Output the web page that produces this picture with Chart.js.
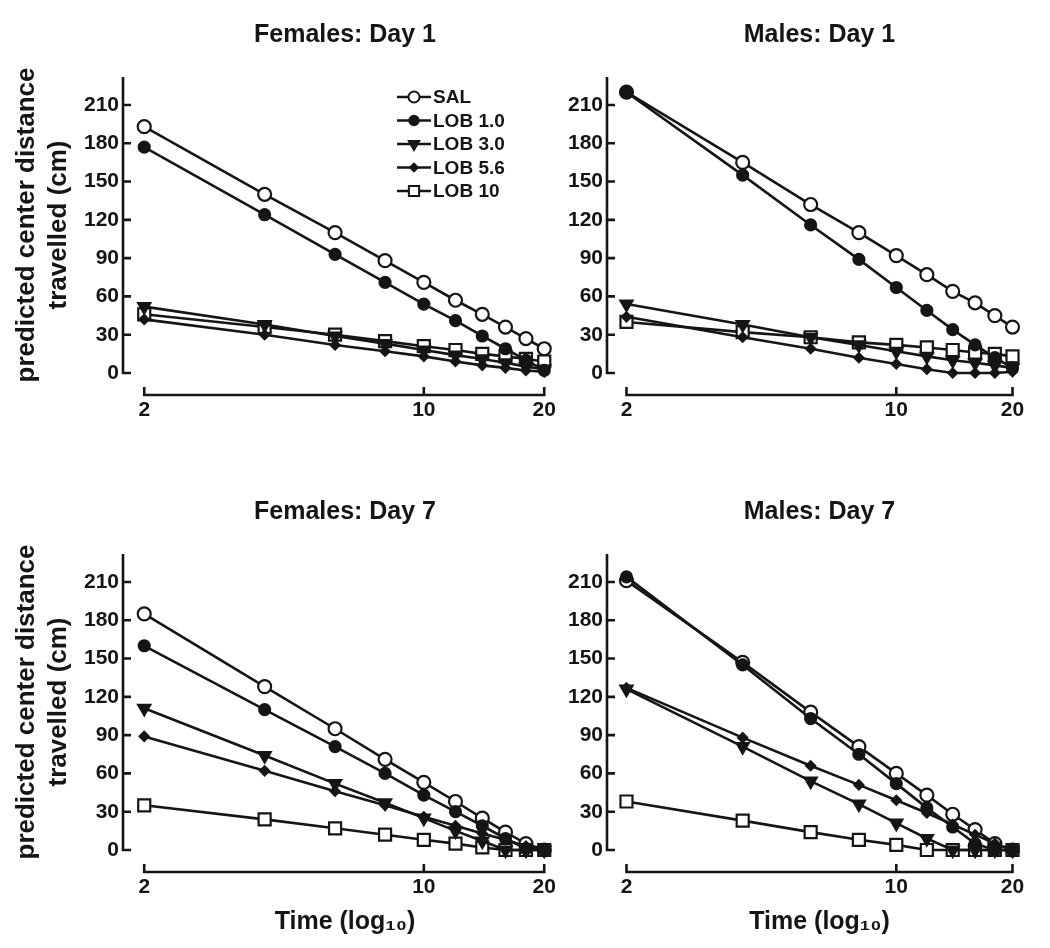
<!DOCTYPE html>
<html>
<head>
<meta charset="utf-8">
<script src="https://cdn.jsdelivr.net/npm/chart.js@4.4.1/dist/chart.umd.min.js"></script>
<style>
  html, body { margin: 0; padding: 0; background: #fff; }
  body { width: 1050px; height: 948px; overflow: hidden; position: relative; }
  canvas { position: absolute; }
</style>
</head>
<body>
<canvas id="fd1" width="600" height="440" style="left:0;top:0"></canvas>
<canvas id="md1" width="485" height="440" style="left:565px;top:0"></canvas>
<canvas id="fd7" width="600" height="471" style="left:0;top:477px"></canvas>
<canvas id="md7" width="485" height="471" style="left:565px;top:477px"></canvas>
<script>
// time points (min), shown on a log10 axis
const timePoints = [2, 4, 6, 8, 10, 12, 14, 16, 18, 20];
const xTickValues = [2, 10, 20];
const yTickValues = [0, 30, 60, 90, 120, 150, 180, 210];
const seriesNames = ['SAL', 'LOB 1.0', 'LOB 3.0', 'LOB 5.6', 'LOB 10'];

// rows follow seriesNames order
const femalesDay1 = [
  [193, 140, 110, 88, 71, 57, 46, 36, 27, 19],
  [177, 124, 93, 71, 54, 41, 29, 19, 10, 2],
  [52, 38, 29, 23, 18, 14, 11, 8, 5, 3],
  [42, 30, 22, 17, 13, 9, 6, 4, 2, 1],
  [46, 36, 30, 25, 21, 18, 15, 13, 11, 9]
];
const malesDay1 = [
  [220, 165, 132, 110, 92, 77, 64, 55, 45, 36],
  [220, 155, 116, 89, 67, 49, 34, 22, 12, 4],
  [54, 38, 28, 22, 17, 13, 10, 8, 6, 4],
  [44, 28, 19, 12, 7, 3, 0, 0, 0, 1],
  [40, 32, 28, 24, 22, 20, 18, 16, 15, 13]
];
const femalesDay7 = [
  [185, 128, 95, 71, 53, 38, 25, 14, 5, 0],
  [160, 110, 81, 60, 43, 30, 19, 9, 1, 0],
  [111, 74, 52, 37, 25, 15, 7, 0, 0, 0],
  [89, 62, 46, 35, 26, 19, 13, 8, 3, 0],
  [35, 24, 17, 12, 8, 5, 2, 0, 0, 0]
];
const malesDay7 = [
  [211, 147, 108, 81, 60, 43, 28, 16, 5, 0],
  [214, 145, 103, 75, 52, 33, 18, 5, 0, 0],
  [126, 81, 54, 36, 21, 9, 0, 0, 0, 0],
  [127, 88, 66, 51, 39, 29, 20, 12, 5, 0],
  [38, 23, 14, 8, 4, 0, 0, 0, 0, 0]
];

const INK = '#151515';
const FONT = '"Liberation Sans", Arial, Helvetica, sans-serif';
const markerStyle = ['circle', 'circle', 'triangle', 'rectRot', 'rect'];
const markerFill = ['#fff', INK, INK, INK, '#fff'];
const markerRadius = [6.5, 5.5, 7, 4.5, 8.5];
const markerRotation = [0, 0, 180, 0, 0];
const drawOrder = [1, 0, 0, 0, 0]; // SAL drawn underneath the filled symbols
const AXIS_GAP = 22; // x axis sits below the y=0 level

// prism-style axes: y line stops at 0, x line spans 2..20 lower down, ticks point inward
const prismAxes = {
  id: 'prismAxes',
  beforeDatasetsDraw(chart) {
    const { ctx, chartArea, scales: { x, y } } = chart;
    ctx.save();
    ctx.strokeStyle = INK;
    ctx.lineWidth = 2.6;
    ctx.beginPath();
    ctx.moveTo(chartArea.left, chartArea.top);
    ctx.lineTo(chartArea.left, y.getPixelForValue(0) + 1.3);
    yTickValues.forEach(v => {
      const p = y.getPixelForValue(v);
      ctx.moveTo(chartArea.left, p);
      ctx.lineTo(chartArea.left + 8, p);
    });
    const xb = chartArea.bottom + AXIS_GAP;
    ctx.moveTo(x.getPixelForValue(xTickValues[0]), xb);
    ctx.lineTo(x.getPixelForValue(xTickValues[xTickValues.length - 1]), xb);
    xTickValues.forEach(v => {
      const p = x.getPixelForValue(v);
      ctx.moveTo(p, xb + 1.3);
      ctx.lineTo(p, xb - 8);
    });
    ctx.stroke();
    ctx.restore();
  }
};

const insetLegend = {
  id: 'insetLegend',
  afterDraw(chart, args, opts) {
    if (!opts.show) return;
    const { ctx, chartArea } = chart;
    const x0 = chartArea.left + opts.dx;
    const y0 = chartArea.top + opts.dy;
    ctx.save();
    chart.data.datasets.forEach((ds, i) => {
      const yy = y0 + i * opts.rowGap;
      ctx.strokeStyle = INK;
      ctx.lineWidth = 2.6;
      ctx.beginPath();
      ctx.moveTo(x0, yy);
      ctx.lineTo(x0 + opts.lineLen, yy);
      ctx.stroke();
      ctx.fillStyle = ds.pointBackgroundColor;
      ctx.lineWidth = 2;
      Chart.helpers.drawPoint(ctx, {
        pointStyle: ds.pointStyle, radius: ds.pointRadius * 0.85,
        rotation: ds.pointRotation, borderWidth: 2
      }, x0 + opts.lineLen / 2, yy);
      ctx.fillStyle = INK;
      ctx.font = 'bold 19px ' + FONT;
      ctx.textAlign = 'left';
      ctx.textBaseline = 'middle';
      ctx.fillText(ds.label, x0 + opts.lineLen + 2, yy + 1);
    });
    ctx.restore();
  }
};

function makePanel(id, title, rows, cfg) {
  return new Chart(document.getElementById(id), {
    type: 'line',
    data: {
      datasets: rows.map((vals, i) => ({
        label: seriesNames[i],
        data: timePoints.map((t, j) => ({ x: t, y: vals[j] })),
        order: drawOrder[i],
        borderColor: INK,
        borderWidth: 2.6,
        pointStyle: markerStyle[i],
        pointRadius: markerRadius[i],
        pointRotation: markerRotation[i],
        pointBackgroundColor: markerFill[i],
        pointBorderColor: INK,
        pointBorderWidth: 2.2,
        tension: 0,
        fill: false,
        clip: false
      }))
    },
    options: {
      responsive: false,
      animation: false,
      layout: { padding: { right: cfg.padRight } },
      plugins: {
        legend: { display: false },
        tooltip: { enabled: false },
        title: {
          display: true, text: title, color: INK, fullSize: false,
          font: { family: FONT, size: 25, weight: 'bold', lineHeight: 1.2 },
          padding: { top: 20, bottom: 27 }
        },
        insetLegend: { show: !!cfg.legend, dx: 274, dy: 20, rowGap: 23.5, lineLen: 34 }
      },
      scales: {
        x: {
          type: 'logarithmic',
          min: cfg.xMin, max: cfg.xMax,
          afterBuildTicks: s => { s.ticks = xTickValues.map(v => ({ value: v })); },
          afterFit: s => { s.height = cfg.xHeight; },
          grid: { display: false, drawTicks: false },
          border: { display: false },
          ticks: {
            color: INK, padding: AXIS_GAP + 3, autoSkip: false, maxRotation: 0,
            font: { family: FONT, size: 21, weight: 'bold' },
            callback: v => String(v)
          },
          title: {
            display: !!cfg.xTitle, text: cfg.xTitle || '', color: INK,
            font: { family: FONT, size: 25, weight: 'bold', lineHeight: 1.2 },
            padding: { top: 0, bottom: 11 }
          }
        },
        y: {
          min: 0, max: 231.9,
          afterBuildTicks: s => { s.ticks = yTickValues.map(v => ({ value: v })); },
          afterFit: s => { s.width = cfg.yWidth; },
          grid: { display: false, drawTicks: false },
          border: { display: false },
          ticks: {
            color: INK, padding: 4,
            font: { family: FONT, size: 21, weight: 'bold' },
            callback: v => String(v)
          },
          title: {
            display: !!cfg.yTitle,
            text: ['predicted center distance', 'travelled (cm)'],
            color: INK,
            font: { family: FONT, size: 26, weight: 'bold', lineHeight: 1.23 },
            padding: { top: 11, bottom: 0 }
          }
        }
      }
    },
    plugins: [prismAxes, insetLegend]
  });
}

const leftPanel = { xMin: 1.77, xMax: 22.8, yWidth: 123, padRight: 33, yTitle: true };
const rightPanel = { xMin: 1.7806, xMax: 22.47, yWidth: 42, padRight: 8, yTitle: false };

makePanel('fd1', 'Females: Day 1', femalesDay1, { ...leftPanel, xHeight: 67, legend: true });
makePanel('md1', 'Males: Day 1', malesDay1, { ...rightPanel, xHeight: 67 });
makePanel('fd7', 'Females: Day 7', femalesDay7, { ...leftPanel, xHeight: 98, xTitle: 'Time (log\u2081\u2080)' });
makePanel('md7', 'Males: Day 7', malesDay7, { ...rightPanel, xHeight: 98, xTitle: 'Time (log\u2081\u2080)' });
</script>
</body>
</html>
